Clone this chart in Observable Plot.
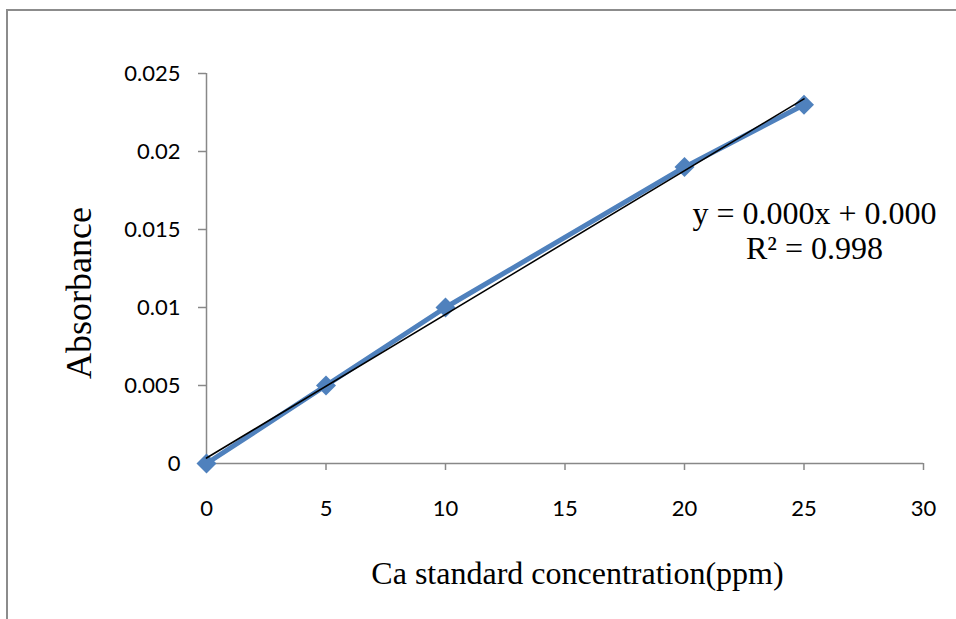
<!DOCTYPE html>
<html>
<head>
<meta charset="utf-8">
<script src="https://cdn.jsdelivr.net/npm/d3@7"></script>
<script src="https://cdn.jsdelivr.net/npm/@observablehq/plot@0.6"></script>
<style>
  html, body { margin: 0; padding: 0; background: #fff; }
  #wrap { position: relative; width: 956px; height: 619px; overflow: hidden; }
  #border { position: absolute; left: 6px; top: 9px; width: 1000px; height: 700px;
            border-left: 2px solid #8c8c8c; border-top: 2px solid #8c8c8c; pointer-events: none; }
</style>
</head>
<body>
<div id="wrap"><div id="border"></div></div>
<script>
// Data
const concentration = [0, 5, 10, 20, 25];
const absorbance = [0, 0.005, 0.01, 0.019, 0.023];
const xTicks = [0, 5, 10, 15, 20, 25, 30];
const yTicks = [0, 0.005, 0.01, 0.015, 0.02, 0.025];
const xTitle = "Ca standard concentration(ppm)";
const yTitle = "Absorbance";
const equationText = "y = 0.000x + 0.000\nR\u00B2 = 0.998";

const data = concentration.map((c, i) => ({x: c, y: absorbance[i]}));

const blue = "#4f81bd";
const axisGray = "#888888";

const chart = Plot.plot({
  width: 956,
  height: 619,
  marginLeft: 206,
  marginRight: 33,
  marginTop: 73,
  marginBottom: 156,
  style: {fontFamily: "Lato", fontSize: "22px", background: "transparent", overflow: "visible"},
  x: {domain: [0, 30]},
  y: {domain: [0, 0.025]},
  marks: [
    Plot.ruleX([0], {stroke: axisGray, strokeWidth: 1.5}),
    Plot.ruleY([0], {stroke: axisGray, strokeWidth: 1.5}),
    Plot.axisX({ticks: xTicks, tickSize: 7, tickPadding: 30, stroke: axisGray, fill: "#000",
                strokeWidth: 1.5, fontSize: 22, fontFamily: "Lato", tickFormat: d => String(d), label: null}),
    Plot.axisY({ticks: yTicks, tickSize: 8, tickPadding: 18, stroke: axisGray, fill: "#000",
                strokeWidth: 1.5, fontSize: 22, fontFamily: "Lato", tickFormat: d => String(d), label: null}),
    Plot.line(data, {x: "x", y: "y", stroke: blue, strokeWidth: 5}),
    Plot.dot(data, {x: "x", y: "y", symbol: "diamond2", r: 9, fill: blue, stroke: "none"}),
    Plot.linearRegressionY(data, {x: "x", y: "y", stroke: "black", strokeWidth: 1.6, ci: 0}),
    Plot.text([equationText], {frameAnchor: "top-right", dx: -109, dy: 157, textAnchor: "middle",
               lineAnchor: "middle", lineHeight: 1.09, fontFamily: "Liberation Serif", fontSize: 32, fill: "#000"}),
    Plot.text([xTitle], {frameAnchor: "bottom", dx: 12.5, dy: 110, textAnchor: "middle", lineAnchor: "middle",
               fontFamily: "Liberation Serif", fontSize: 32, fill: "#000"}),
    Plot.text([yTitle], {frameAnchor: "left", dx: -127, dy: 24.5, rotate: -90, textAnchor: "middle", lineAnchor: "middle",
               fontFamily: "Liberation Serif", fontSize: 36, fill: "#000"})
  ]
});
document.getElementById("wrap").prepend(chart);
</script>
</body>
</html>
